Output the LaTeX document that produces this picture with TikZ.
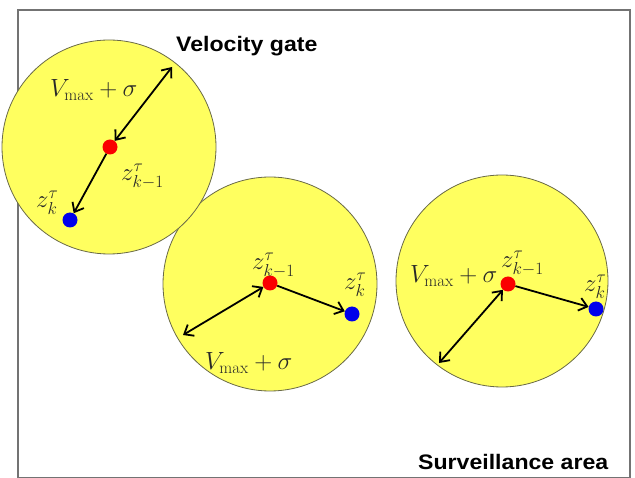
\documentclass[tikz,border=0pt]{standalone}
\usepackage{fontspec}
\usetikzlibrary{arrows.meta}
\newfontfamily\labelfont[FakeStretch=1.1]{Liberation Sans}
\definecolor{gatefill}{RGB}{255,255,95}
\definecolor{gateline}{RGB}{105,105,70}
\definecolor{arealine}{RGB}{115,115,115}
\definecolor{dotred}{RGB}{250,0,0}
\definecolor{dotblue}{RGB}{0,0,235}
\definecolor{mathtext}{RGB}{40,40,40}
\tikzset{
  gate/.style={circle, draw=gateline, fill=gatefill, line width=0.8pt, inner sep=0pt},
  pt/.style={circle, inner sep=0pt, minimum size=15pt},
  redpt/.style={pt, fill=dotred},
  bluept/.style={pt, fill=dotblue},
  vec/.style={line width=1.8pt, -{Straight Barb[length=8pt,width=13pt]}},
  dvec/.style={line width=1.8pt, {Straight Barb[length=8pt,width=13pt]}-{Straight Barb[length=8pt,width=13pt]}},
  mlabel/.style={anchor=base west, inner sep=0pt, text=mathtext, font=\fontsize{24}{28}\selectfont},
  zlabel/.style={mlabel, font=\fontsize{26}{30}\selectfont},
  title/.style={anchor=base west, inner sep=0pt, font=\labelfont\bfseries\fontsize{21}{24}\selectfont}
}
\begin{document}
\begin{tikzpicture}[x=1pt,y=-1pt]
\useasboundingbox (0,0) rectangle (635,478);
% surveillance area
\node[draw=arealine, line width=2pt, minimum width=612pt, minimum height=468pt, inner sep=0pt, anchor=north west] (area) at (17,9) {};
% gates
\node[gate, minimum size=214pt] (g2) at (270,284) {};
\node[gate, minimum size=214pt] (g1) at (109,147) {};
\node[gate, minimum size=212pt] (g3) at (502,281) {};
% points
\node[redpt] (r1) at (110,147) {};
\node[bluept] (b1) at (70,220) {};
\node[redpt] (r2) at (270,283) {};
\node[bluept] (b2) at (352,314) {};
\node[redpt] (r3) at (508,284) {};
\node[bluept] (b3) at (596,309) {};
\coordinate (e1) at (172,67);
\coordinate (e2) at (183,335);
\coordinate (e3) at (439,363);
% connectors
\draw[dvec] (r1) -- (e1);
\draw[vec] (r1) -- (b1);
\draw[dvec] (r2) -- (e2);
\draw[vec] (r2) -- (b2);
\draw[dvec] (r3) -- (e3);
\draw[vec] (r3) -- (b3);
% labels
\node[mlabel] (v1) at (50,97) {$V_{\mathrm{max}}+\sigma$};
\node[zlabel] (p1) at (121,181) {$z_{k-1}^{\tau}$};
\node[zlabel] (c1) at (36,208) {$z_{k}^{\tau}$};
\node[mlabel] (v2) at (205,370) {$V_{\mathrm{max}}+\sigma$};
\node[zlabel] (p2) at (252,270) {$z_{k-1}^{\tau}$};
\node[zlabel] (c2) at (344,290) {$z_{k}^{\tau}$};
\node[mlabel] (v3) at (410,283) {$V_{\mathrm{max}}+\sigma$};
\node[zlabel] (p3) at (501,268) {$z_{k-1}^{\tau}$};
\node[zlabel] (c3) at (584,292) {$z_{k}^{\tau}$};
\node[title] (t1) at (176,52) {Velocity gate};
\node[title] (t2) at (418,469) {Surveillance area};
\end{tikzpicture}
\end{document}
